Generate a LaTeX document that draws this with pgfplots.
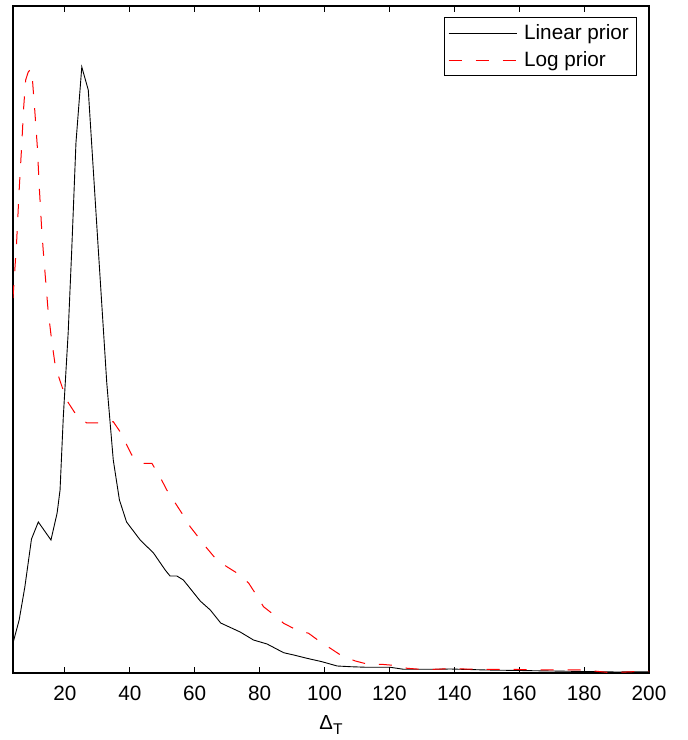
\documentclass[border=0pt]{standalone}
\usepackage{fontspec}
\setmainfont{Liberation Sans}
\usepackage{pgfplots}
\pgfplotsset{compat=1.18}
\begin{document}
\begin{tikzpicture}
\begin{axis}[
  scale only axis=true,
  width=318bp, height=333.5bp,
  xmin=4, xmax=200, ymin=0, ymax=667,
  xtick={20,40,...,200},
  ytick=\empty,
  tick align=inside,
  xtick pos=both,
  major tick length=3bp,
  axis line style={line width=0.6bp},
  every tick/.style={black, line width=0.5bp},
  /pgf/number format/assume math mode=true,
  xticklabel style={font=\fontsize{10.4}{12}\selectfont, anchor=base, yshift=-13.5bp, inner sep=0pt},
  xlabel={\fontsize{10.2}{12}\selectfont Δ\raisebox{-2.8bp}{\fontsize{7.8}{9}\selectfont T}},
  xlabel style={at={(axis description cs:0.5,0)}, anchor=base, yshift=-28bp, inner sep=0pt},
  legend style={at={(1,1)}, anchor=north east, xshift=-6bp, yshift=-5.5bp,
    draw=black, line width=0.5bp, font=\fontsize{10.4}{12}\selectfont,
    inner xsep=1.8pt, inner ysep=1.3pt, row sep=0.5pt},
  legend cell align=left,
  legend image code/.code={\draw[#1] (3bp,0bp) -- (37bp,0bp); \path (38.5bp,0bp);},
]
\addplot[black, line width=0.45bp] coordinates {
(4,30) (5.9,53) (7.65,86) (9.7,134) (11.8,151) (15.7,133) (17.6,160) (18.5,183)
(19.5,256) (21.0,340) (22.1,423) (23.4,530) (25.2,606) (27.2,583) (30.3,423)
(32.9,290) (34.9,213) (36.8,173) (39.0,151) (43.2,133) (47.3,120) (50.9,103)
(52.4,97) (54.5,97) (56.5,93) (61.7,72) (64.8,63) (68.0,50) (71.0,45.5) (74.0,41)
(77.1,35) (78.1,33) (82.3,29) (87.4,20.3) (90.5,18) (94.6,14.7) (99.2,11.3)
(103.9,7) (108,6.3) (113.1,5.7) (120.3,5.7) (124.4,3.7) (133.7,3.7) (138.8,4)
(150,3) (160,2.5) (170,2) (180,1.5) (190,1) (200,1.3)
};
\addlegendentry{Linear prior}
\addplot[red, line width=0.5bp, dash pattern=on 6.5bp off 7bp] coordinates {
(4,375) (5.1,430) (5.9,483) (6.6,523) (7.3,566) (7.9,593) (8.7,601) (9.5,604)
(10.0,593) (10.7,563) (11.5,526) (12.1,486) (12.8,446) (13.3,423) (13.8,403)
(14.8,363) (15.9,333) (16.9,310) (18.2,295) (20.5,273) (23.1,260) (26.7,250)
(30.8,250) (34.9,251.3) (37.0,241.3) (40.6,218) (44.2,209.7) (46.8,209.7)
(49.8,193) (51.4,183) (56.0,160) (58.6,146.3) (63.7,125) (66.8,113) (69.9,106.3)
(73.0,100) (76.6,90) (78.6,80) (81.2,66.3) (83.8,59.7) (87.4,49.7) (91.0,43.7)
(95.1,39.7) (98.2,32.3) (101.8,24.7) (105.4,17) (109.5,12) (113.1,9) (118.2,8.5)
(121.9,7.5) (125.5,4.7) (129.6,3.7) (133.7,3.7) (138.8,4.3) (150,3.5) (160,3.5)
(170,3) (180,3) (188.2,0.3) (200,2)
};
\addlegendentry{Log prior}
\end{axis}
\pgfresetboundingbox
\path[use as bounding box] ([shift={(-6.5bp,-33.5bp)}]current axis.south west) rectangle ([shift={(19.5bp,3bp)}]current axis.north east);
\end{tikzpicture}
\end{document}
